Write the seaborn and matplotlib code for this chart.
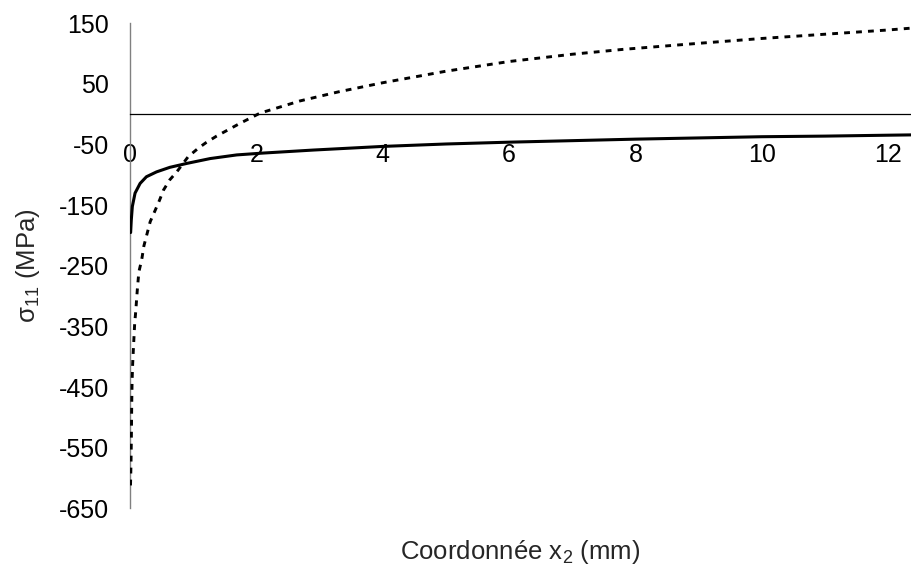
import matplotlib
matplotlib.use("Agg")
import matplotlib.pyplot as plt
import seaborn as sns

# stress profile sigma_11 along x2
x_solid = [0.01, 0.02, 0.037, 0.08, 0.16, 0.26, 0.42, 0.63, 0.9, 1.27, 1.69, 2.1,
           2.9, 4, 5, 6, 7, 8, 9, 10, 11, 12, 12.36]
y_solid = [-195, -175, -152, -130, -114, -103, -95, -87.5, -81, -73, -67, -64,
           -59, -53, -49, -46, -43.5, -41, -39, -37, -36, -34.5, -34]

x_dot = [0.008, 0.016, 0.022, 0.027, 0.033, 0.042, 0.053, 0.074, 0.09, 0.116, 0.14,
         0.185, 0.22, 0.32, 0.4, 0.47, 0.53, 0.63, 0.74, 0.92, 1.08, 1.2, 1.37, 1.74,
         2.06, 2.69, 3.3, 4, 5, 6, 7, 7.8, 9, 10, 11, 12, 12.36]
y_dot = [-612, -575, -530, -480, -440, -412, -388, -345, -326, -289, -260,
         -240, -217, -177, -158, -141, -125, -108, -95, -70, -56, -47, -36, -15,
         2, 22, 37, 52, 71, 87, 99, 107, 117, 125, 132, 139, 142]

x_ticks = [0, 2, 4, 6, 8, 10, 12]
y_ticks = [150, 50, -50, -150, -250, -350, -450, -550, -650]

sns.set_style("white")
plt.rcParams['font.family'] = ['Liberation Sans', 'DejaVu Sans']
plt.rcParams['mathtext.fontset'] = 'custom'
plt.rcParams['mathtext.rm'] = 'Liberation Sans'
plt.rcParams['mathtext.default'] = 'regular'
plt.rcParams['axes.unicode_minus'] = False

fig = plt.figure(figsize=(9.11, 5.67), dpi=100)
ax = fig.add_axes([0.1427, 0.1032, 0.8573, 0.8557])

sns.lineplot(x=x_solid, y=y_solid, ax=ax, color="black", lw=2.2, zorder=3)
sns.lineplot(x=x_dot, y=y_dot, ax=ax, color="black", lw=2.1,
             linestyle=(0, (2.0, 2.1)), zorder=3)

ax.set_xlim(0, 12.36)
ax.set_ylim(-650, 150)
ax.set_xticks(x_ticks)
ax.set_yticks(y_ticks)

for s in ["top", "right"]:
    ax.spines[s].set_visible(False)
ax.spines["left"].set_color("#808080")
ax.spines["left"].set_linewidth(1.0)
ax.spines["bottom"].set_position(("data", 0))
ax.spines["bottom"].set_color("black")
ax.spines["bottom"].set_linewidth(0.9)

ax.tick_params(axis="x", direction="out", length=5, width=0.9, color="#707070",
               pad=16, labelsize=18, labelcolor="black")
ax.tick_params(axis="y", direction="out", length=6, width=0.9, color="#707070",
               pad=9, labelsize=18, labelcolor="black")

ax.set_xlabel("Coordonnée x$_2$ (mm)", fontsize=18.5)
ax.set_ylabel("σ$_{11}$ (MPa)", fontsize=18.5)
ax.xaxis.set_label_coords(0.5, -0.06)
ax.yaxis.set_label_coords(-0.113, 0.5)

plt.savefig("out.png", dpi=100)
plt.close()
